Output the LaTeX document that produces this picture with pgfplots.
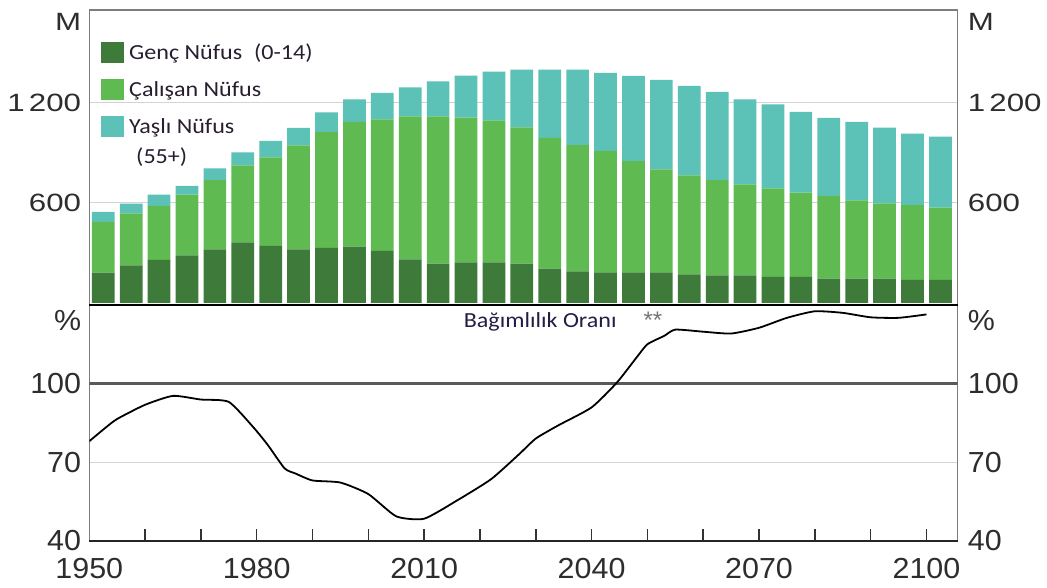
\documentclass[border=0pt]{standalone}
\usepackage{pgfplots}
\usepackage{pgfplotstable}
\pgfplotsset{compat=1.18}
\usepackage{fontspec}
\setmainfont{Liberation Sans}
\newfontfamily\calfont[FakeStretch=1.12]{Carlito}
\newfontfamily\tickwide[FakeStretch=1.25]{Liberation Sans}
\newfontfamily\tickfont[FakeStretch=1.05]{Liberation Sans}
\definecolor{cdark}{RGB}{62,122,58}
\definecolor{cmid}{RGB}{95,186,82}
\definecolor{cteal}{RGB}{92,194,183}
\definecolor{txt}{RGB}{40,30,48}
\definecolor{ticktxt}{RGB}{45,45,45}
\definecolor{framec}{RGB}{125,125,125}
\definecolor{gridc}{RGB}{212,212,212}
\definecolor{tickc}{RGB}{50,50,50}
\tikzset{botlab/.style={anchor=west, inner sep=0pt, xshift=10pt, font=\tickfont\fontsize{29}{29}\selectfont, text=ticktxt},
         toplab/.style={anchor=west, inner sep=0pt, xshift=10pt, font=\tickwide\fontsize{25}{25}\selectfont, text=ticktxt}}

\pgfplotstableread{
year young working old
1952.5 182 304 60
1957.5 226 312 58
1962.5 258 324 68
1967.5 286 364 52
1972.5 322 416 70
1977.5 364 462 78
1982.5 342 532 98
1987.5 322 624 104
1992.5 330 696 118
1997.5 338 748 136
2002.5 312 790 158
2007.5 262 858 174
2012.5 236 884 210
2017.5 244 868 252
2022.5 244 852 292
2027.5 236 818 346
2032.5 206 784 410
2037.5 190 758 452
2042.5 184 728 468
2047.5 184 668 510
2052.5 184 618 536
2057.5 172 594 536
2062.5 166 572 528
2067.5 166 546 510
2072.5 156 532 504
2077.5 156 506 484
2082.5 146 496 468
2087.5 146 470 470
2092.5 146 452 454
2097.5 138 450 428
2102.5 138 434 426
}\bars

\pgfplotstableread{
year ratio
1950 78
1953 83.3
1955 86.5
1960 91.9
1965 95.3
1970 93.9
1975 93.0
1979.4 83.3
1982 76.5
1985 67.6
1987 65.6
1990 63.0
1995 62.2
2000 57.8
2005 49.3
2010 48.4
2016 55.5
2022 63.5
2027 73.0
2030 79.0
2034 84.0
2040 90.9
2044.5 100.3
2048 109.8
2050 115.0
2053 118.2
2055 120.6
2060 119.8
2065 119.1
2070 121.3
2075 125.1
2080 127.6
2085 127.0
2090 125.3
2095 125.1
2100 126.4
}\ratio

\begin{document}
\begin{tikzpicture}
\path[use as bounding box] (0,0) rectangle (1047pt,588pt);

% ---------------- bottom panel ----------------
\begin{axis}[
  at={(89.3pt,47.3pt)}, anchor=south west,
  scale only axis, width=868.4pt, height=235.7pt,
  xmin=1950, xmax=2105.6, ymin=40, ymax=130,
  clip mode=individual,
  axis line style={framec, line width=1.4pt},
  xtick={1950,1980,2010,2040,2070,2100},
  xticklabels={1950,1980,2010,2040,2070,2100},
  ytick={40,70,100}, yticklabels={40,70,100},
  major tick length=0pt,
  extra y ticks={124}, extra y tick labels={\%},
  extra y tick style={grid=none},
  ymajorgrids, grid style={gridc, line width=1pt},
  ticklabel style={font=\tickfont\fontsize{29}{29}\selectfont, text=ticktxt, inner sep=0pt},
  xticklabel shift=17pt, yticklabel shift=8pt,
  unbounded coords=jump,
]
\addplot[no marks, line width=2.2pt, black!65] coordinates {(1950,100) (2105.6,100)};
% inward x tick marks every 10 years
\addplot[no marks, draw=tickc, line width=1.5pt] coordinates {
 (1960,40) (1960,44.6) (1965,nan)
 (1970,40) (1970,44.6) (1975,nan)
 (1980,40) (1980,44.6) (1985,nan)
 (1990,40) (1990,44.6) (1995,nan)
 (2000,40) (2000,44.6) (2005,nan)
 (2010,40) (2010,44.6) (2015,nan)
 (2020,40) (2020,44.6) (2025,nan)
 (2030,40) (2030,44.6) (2035,nan)
 (2040,40) (2040,44.6) (2045,nan)
 (2050,40) (2050,44.6) (2055,nan)
 (2060,40) (2060,44.6) (2065,nan)
 (2070,40) (2070,44.6) (2075,nan)
 (2080,40) (2080,44.6) (2085,nan)
 (2090,40) (2090,44.6) (2095,nan)
 (2100,40) (2100,44.6)};
\addplot[no marks, black, line width=1.8pt, smooth, tension=0.35] table[x=year,y=ratio]{\ratio};
\node[font=\calfont\fontsize{21.5}{21.5}\selectfont, text={rgb,255:red,35;green,30;blue,70}] at (axis cs:2030.8,123.4) {Bağımlılık Oranı};
\node[font=\fontsize{24}{24}\selectfont, text=black!55, inner sep=0pt] at (axis cs:2051.0,124.1) {**};
% right-hand labels
\node[botlab] at (axis cs:2105.6,40) {40};
\node[botlab] at (axis cs:2105.6,70) {70};
\node[botlab] at (axis cs:2105.6,100) {100};
\node[botlab] at (axis cs:2105.6,124) {\%};
\draw[black!85, line width=2.2pt] (rel axis cs:0,0) -- (rel axis cs:1,0);
\end{axis}

% ---------------- top panel ----------------
\begin{axis}[
  at={(89.3pt,283pt)}, anchor=south west,
  scale only axis, width=868.4pt, height=295pt,
  xmin=1950, xmax=2105.6, ymin=-12, ymax=1758,
  clip mode=individual,
  ybar stacked, bar width=22.7pt,
  axis line style={framec, line width=1.4pt},
  xtick=\empty,
  ytick={600,1200}, yticklabels={600,1\,200},
  major tick length=0pt,
  extra y ticks={1686}, extra y tick labels={M},
  extra y tick style={grid=none},
  ymajorgrids, grid style={gridc, line width=1pt},
  ticklabel style={font=\tickwide\fontsize{25}{25}\selectfont, text=ticktxt, inner sep=0pt},
  yticklabel shift=8pt,
  legend style={at={(0.01347,0.8925)}, anchor=north west, draw=none, fill=none,
    inner sep=0pt, row sep=16pt, column sep=5pt,
    font=\calfont\fontsize{21.5}{21.5}\selectfont, text=txt,
    nodes={inner sep=0pt}},
  legend cell align=left,
  legend image code/.code={\fill[#1] (0pt,-10.5pt) rectangle (23pt,10.5pt);},
]
\addplot[fill=cdark, draw=none] table[x=year,y=young]{\bars};
\addplot[fill=cmid, draw=none] table[x=year,y=working]{\bars};
\addplot[fill=cteal, draw=none] table[x=year,y=old]{\bars};
\legend{Genç Nüfus\hspace{0.55em}(0-14), Çalışan Nüfus, Yaşlı Nüfus}
\node[anchor=west, font=\calfont\fontsize{21.5}{21.5}\selectfont, text=txt, inner sep=0pt] at (rel axis cs:0.0538,0.5017) {(55+)};
% right-hand labels
\node[toplab] at (axis cs:2105.6,600) {600};
\node[toplab] at (axis cs:2105.6,1200) {1\,200};
\node[toplab] at (axis cs:2105.6,1686) {M};
\draw[black, line width=2.2pt] (rel axis cs:0,0) -- (rel axis cs:1,0);
\end{axis}
\end{tikzpicture}
\end{document}
